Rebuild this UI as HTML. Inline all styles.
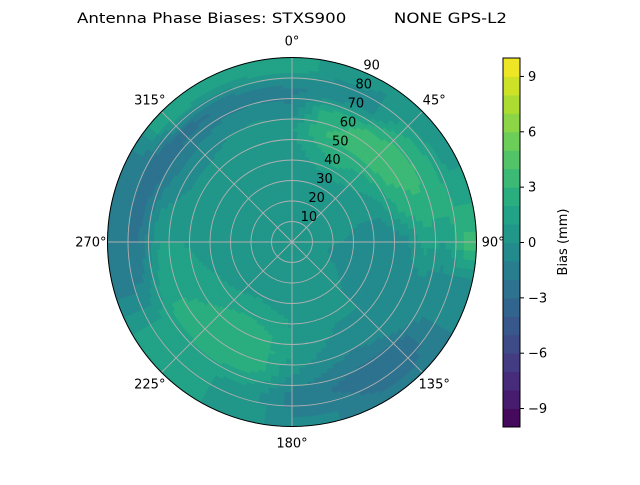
<!DOCTYPE html>
<html><head><meta charset="utf-8"><style>
html,body{margin:0;padding:0;background:#fff;}
svg text{font-family:"DejaVu Sans","Liberation Sans",sans-serif;fill:#000;}
</style></head><body>
<svg id="chart" width="640" height="480" viewBox="0 0 640 480" xmlns="http://www.w3.org/2000/svg">
<rect width="640" height="480" fill="#fff"/>
<text x="292" y="23" font-size="14" text-anchor="middle" textLength="430" lengthAdjust="spacingAndGlyphs" xml:space="preserve">Antenna Phase Biases: STXS900         NONE GPS-L2</text>
<g id="field"></g>
<g id="grid"></g>
<g id="cbar"></g>
<text transform="translate(567,242) rotate(-90)" font-size="13" text-anchor="middle">Bias (mm)</text>
</svg>
<script>
// azimuths (deg, clockwise from north) and zenith ring centers
const azimuths = [0,15,30,45,60,75,90,105,120,135,150,165,180,195,210,225,240,255,270,285,300,315,330,345];
const zenithCenters = [5,15,25,35,45,55,65,75,85];
// bias values (mm): one row per azimuth, columns by zenith
const biasValues = [
 [0.5,0.5,0.5,0.5,0.5,0.8,-1,-1.2,2],
 [0.5,0.5,0.5,0.6,1.5,3,2.5,-1,0.5],
 [0.5,0.5,0.5,0.8,2.5,3.2,3,-0.5,0],
 [0.5,0.5,0.5,0.8,1.5,3.5,3.5,2,0],
 [0.5,0.5,0.3,0.5,1,3,3.5,2.5,0.5],
 [0.5,0.4,0.2,0,0,2,2.8,2.5,1.5],
 [0.4,0.2,0,-0.5,-1,-0.5,1.5,1,3.5],
 [0.4,0.2,-0.5,-1,-1,-0.5,0,-0.5,-0.5],
 [0.4,0.3,0,-0.5,-0.8,-0.5,0,-1,-1],
 [0.5,0.5,0.3,0,0,0,-1,-3,-2],
 [0.5,0.5,0.5,0.3,0,-0.5,-1.5,-3,-2],
 [0.5,0.5,0.5,0.5,0.3,0,-1,-2,-1],
 [0.5,0.5,0.5,0.8,1,1,0,-1.5,-1],
 [0.5,0.5,0.6,1,2,2.5,2.2,0.5,0.5],
 [0.5,0.5,0.6,1.2,2.5,3,2.5,1,1],
 [0.5,0.5,0.6,1,2,2.5,2.5,1,1.5],
 [0.5,0.5,0.5,0.8,1.5,2,2.2,1,1],
 [0.5,0.5,0.5,0.5,1,1.5,1.5,-1,-1.5],
 [0.5,0.5,0.5,0.5,0.8,1,1,-2,-2],
 [0.5,0.5,0.5,0.5,0.5,0.5,0,-2.5,-1.5],
 [0.5,0.5,0.5,0.5,0.3,0,-1,-3,-1],
 [0.5,0.5,0.5,0.5,0.5,0,-1,-2.5,2],
 [0.5,0.5,0.5,0.5,0.8,0.5,-0.5,-2,1.5],
 [0.5,0.5,0.5,0.5,0.8,0.8,-0.5,-1.5,1.5]
];
const radialTicks = [10,20,30,40,50,60,70,80,90];
const angleTicks = [0,45,90,135,180,225,270,315];
const cbarTicks = [-9,-6,-3,0,3,6,9];
const levelMin = -10, levelMax = 10, levelStep = 1;

const NS = "http://www.w3.org/2000/svg";
const cx = 292, cy = 242, R = 184.5, maxZen = 90;
const rScale = z => z / maxZen * R;
const pt = (az, z) => { const a = az*Math.PI/180, r = rScale(z); return [cx + r*Math.sin(a), cy - r*Math.cos(a)]; };
const vir = ["#440154","#482475","#414487","#355f8d","#2a788e","#21918c","#22a884","#44bf70","#7ad151","#bddf26","#fde725"];
function hex(h){return [1,3,5].map(i=>parseInt(h.substr(i,2),16));}
function viridis(t){t=Math.max(0,Math.min(1,t));const f=t*10,i=Math.min(9,Math.floor(f)),u=f-i;const a=hex(vir[i]),b=hex(vir[i+1]);return "rgb("+a.map((c,k)=>Math.round(c+(b[k]-c)*u)).join(",")+")";}
const nLev = Math.round((levelMax-levelMin)/levelStep);
function levelColor(v){let k=Math.floor((v-levelMin)/levelStep);k=Math.max(0,Math.min(nLev-1,k));return viridis((k+0.5)/nLev);}
function mk(tag, attrs, parent){const e=document.createElementNS(NS,tag);for(const k in attrs)e.setAttribute(k,attrs[k]);parent.appendChild(e);return e;}

const field = document.getElementById('field');
mk('circle',{cx:cx,cy:cy,r:R,fill:levelColor(0.5)},field);
function val(az, z){
  const na = azimuths.length, step = 360/na;
  let fa = ((az % 360)+360)%360 / step; const i0 = Math.floor(fa)%na, i1=(i0+1)%na, ua = fa-Math.floor(fa);
  const zs = zenithCenters; let j0, uz;
  if (z <= zs[0]) { j0=0; uz=0; } else if (z >= zs[zs.length-1]) { j0=zs.length-2; uz=1; }
  else { j0=0; while (zs[j0+1] < z) j0++; uz=(z-zs[j0])/(zs[j0+1]-zs[j0]); }
  const g=(i,j)=>biasValues[i][j];
  const a = g(i0,j0)*(1-uz)+g(i0,j0+1)*uz, b = g(i1,j0)*(1-uz)+g(i1,j0+1)*uz;
  return a*(1-ua)+b*ua;
}
const dA = 3, dZ = 1.5;
for (let az=0; az<360; az+=dA){
  for (let z=0; z<maxZen; z+=dZ){
    const v = val(az+dA/2, z+dZ/2);
    const p1=pt(az-0.2,z), p2=pt(az+dA+0.2,z), p3=pt(az+dA+0.2,z+dZ+0.1), p4=pt(az-0.2,z+dZ+0.1);
    const c = levelColor(v);
    const cell = mk('path',{d:`M${p1}L${p2}L${p3}L${p4}Z`,fill:c,stroke:c,'stroke-width':0.3},field);
    
    
  }
}

const grid = document.getElementById('grid');
radialTicks.slice(0,-1).forEach(t=>{
  const c = mk('circle',{cx:cx,cy:cy,r:rScale(t),fill:'none',stroke:'#b0b0b0','stroke-width':0.9},grid);
  
  
});
angleTicks.forEach(a=>{
  const p = pt(a, maxZen);
  const l = mk('line',{x1:cx,y1:cy,x2:p[0],y2:p[1],stroke:'#b0b0b0','stroke-width':0.9},grid);
  
  
  const q = pt(a, maxZen*1.09);
  const t = mk('text',{x:q[0],y:q[1]+4.5,'font-size':13,'text-anchor':'middle'},grid);
  t.textContent = a + '°';
  
  
});
radialTicks.forEach(r=>{
  const p = pt(22.5, r);
  const t = mk('text',{x:p[0]+9,y:p[1]-2,'font-size':13,'text-anchor':'middle'},grid);
  t.textContent = r;
  
  
});
const border = mk('circle',{cx:cx,cy:cy,r:R,fill:'none',stroke:'#000','stroke-width':1},grid);



const cb = document.getElementById('cbar');
const cbX = 503, cbW = 17, cbTop = 58, cbBot = 427;
const cbY = v => cbBot - (v-levelMin)/(levelMax-levelMin)*(cbBot-cbTop);
for (let k=0;k<nLev;k++){
  const lo = levelMin + k*levelStep, hi = lo + levelStep;
  const r = mk('rect',{x:cbX,y:cbY(hi),width:cbW,height:cbY(lo)-cbY(hi)+0.5,fill:viridis((k+0.5)/nLev)},cb);
  
  
}
const cbb = mk('rect',{x:cbX,y:cbTop,width:cbW,height:cbBot-cbTop,fill:'none',stroke:'#000','stroke-width':1},cb);


cbarTicks.forEach(v=>{
  const y = cbY(v);
  const l = mk('line',{x1:cbX+cbW,y1:y,x2:cbX+cbW+4,y2:y,stroke:'#000','stroke-width':1},cb);
  
  
  const t = mk('text',{x:cbX+cbW+8,y:y+4.5,'font-size':13},cb);
  t.textContent = v < 0 ? '\u2212' + Math.abs(v) : String(v);
  
  
});
</script>
</body></html>
